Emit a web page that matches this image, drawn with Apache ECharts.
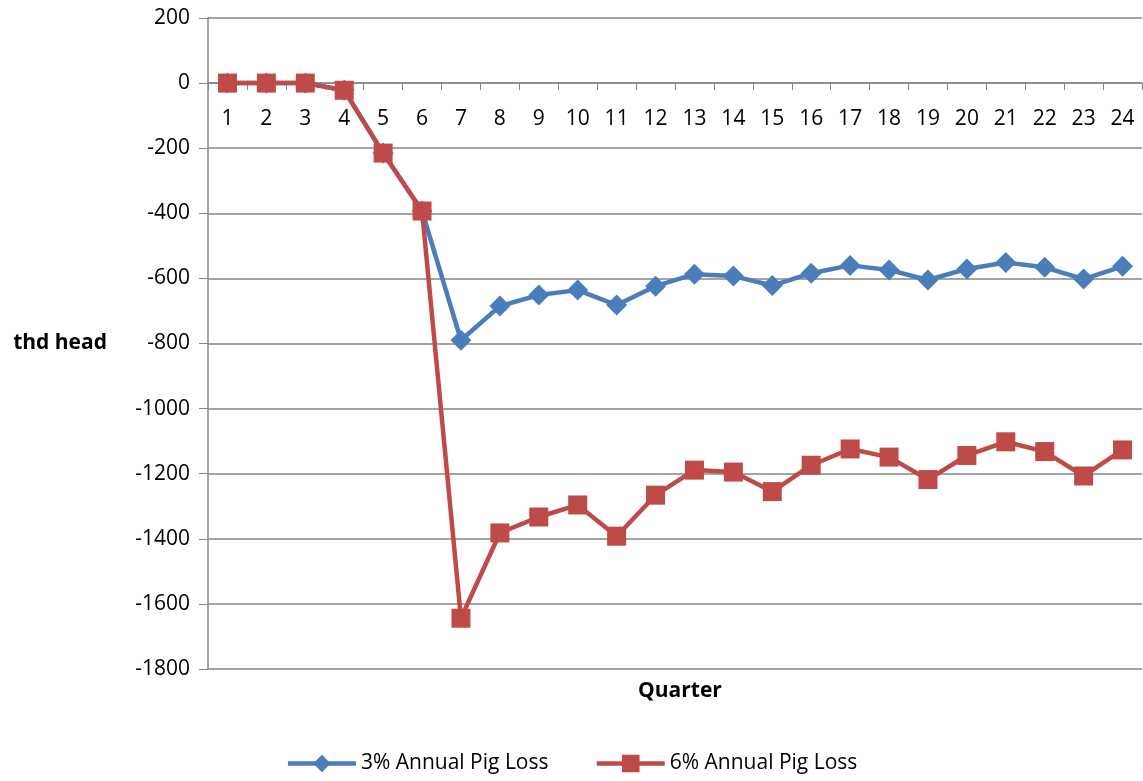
<!DOCTYPE html>
<html><head><meta charset="utf-8">
<script src="https://cdn.jsdelivr.net/npm/echarts@6/dist/echarts.min.js"></script>
<style>html,body{margin:0;padding:0;background:#fff}#c{width:1143px;height:781px}</style>
</head><body><div id="c"></div>
<script>
const quarters = ['1','2','3','4','5','6','7','8','9','10','11','12','13','14','15','16','17','18','19','20','21','22','23','24'];
const loss3 = [0,0,0,-22,-215,-393,-790,-685,-651,-636,-682,-624,-587,-593,-622,-584,-560,-574,-605,-571,-551,-566,-602,-563];
const loss6 = [0,0,0,-22,-215,-393,-1644,-1382,-1333,-1296,-1392,-1266,-1189,-1195,-1255,-1174,-1124,-1149,-1218,-1144,-1102,-1132,-1207,-1127];
const yTicks = {min:-1800, max:200, interval:200};

const font = '"Open Sans", sans-serif';
const axisGray = '#868686';
const gridTop = 18, gridBottom = 112, H = 781;
const plotH = H - gridTop - gridBottom;
// pixel distance from the bottom of the plot up to the value 0
const zeroOffset = plotH * (0 - yTicks.min) / (yTicks.max - yTicks.min);

const chart = echarts.init(document.getElementById('c'));
chart.setOption({
  animation:false,
  textStyle:{fontFamily:font},
  grid:{left:208, right:1, top:gridTop, bottom:gridBottom, containLabel:false},
  title:{text:'Quarter', left:675, top:676, textAlign:'center',
    textStyle:{fontFamily:font, fontSize:21, fontWeight:'bold', color:'#000'}},
  legend:{bottom:2, left:'center', itemWidth:68, itemHeight:22, itemGap:46,
    lineStyle:{width:4.5},
    textStyle:{fontFamily:font, fontSize:21, color:'#000'},
    data:['3% Annual Pig Loss','6% Annual Pig Loss']},
  xAxis:{type:'category', data:quarters, boundaryGap:true, position:'bottom',
    offset:-zeroOffset,
    axisLine:{onZero:false, lineStyle:{color:axisGray, width:1.5}},
    axisTick:{show:true, inside:false, length:7, lineStyle:{color:axisGray}},
    axisLabel:{color:'#000', fontSize:21, margin:25, interval:0},
    splitLine:{show:false}},
  yAxis:{type:'value', min:yTicks.min, max:yTicks.max, interval:yTicks.interval,
    name:'thd head', nameLocation:'middle', nameRotate:0, nameGap:101,
    nameTextStyle:{fontFamily:font, fontSize:21, fontWeight:'bold', color:'#000', align:'right'},
    axisLine:{show:true, lineStyle:{color:axisGray, width:1.5}},
    axisTick:{show:true, length:9, lineStyle:{color:axisGray}},
    axisLabel:{color:'#000', fontSize:21, margin:18, formatter:function(v){return String(v);}},
    splitLine:{lineStyle:{color:axisGray, width:1.5}}},
  series:[
    {name:'3% Annual Pig Loss', type:'line', data:loss3, symbol:'diamond', symbolSize:21,
      lineStyle:{color:'#4A7EBB', width:4.5}, itemStyle:{color:'#4A7EBB'}, z:2},
    {name:'6% Annual Pig Loss', type:'line', data:loss6, symbol:'rect', symbolSize:19,
      lineStyle:{color:'#BE4B48', width:4.5}, itemStyle:{color:'#BE4B48'}, z:3}
  ]
});
</script></body></html>
